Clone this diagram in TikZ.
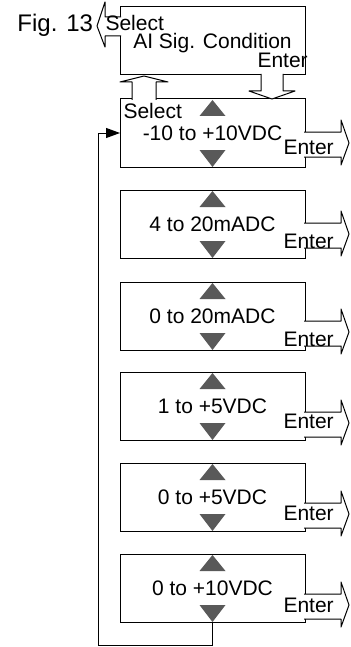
\documentclass[tikz,border=0pt]{standalone}
\usepackage{fontspec}
\setmainfont{Liberation Sans}
\usetikzlibrary{
    arrows.meta,
    calc
}

\definecolor{markgray}{HTML}{595959}

\tikzset{
    menubox/.style={draw, line width=0.5pt, inner sep=0pt, outer sep=0pt,
        minimum width=92.5pt, minimum height=34pt,
        font=\fontsize{10.5}{12}\selectfont},
    keylabel/.style={inner sep=0pt, font=\fontsize{10.5}{12}\selectfont},
    hollow/.style={draw, fill=white, line width=0.5pt, line join=round},
    updown/.style={fill=markgray}
}

\begin{document}
\begin{tikzpicture}[x=0.5pt, y=-0.5pt, line width=0.5pt]
\useasboundingbox (0,0) rectangle (350,647);

% Menu title
\node[anchor=base west, inner sep=0pt, font=\fontsize{12}{14}\selectfont] (fig) at (17,32) {Fig. 13};
\node[menubox] (menu) at (212.5,41) {\raisebox{-1.2pt}[\height][\depth]{AI Sig. Condition}};

% Option boxes
\foreach \i/\t/\s/\e/\val in {1/99/33/56/{-10 to +10VDC}, 2/190/33/58/{4 to 20mADC},
    3/282/39/64/{0 to 20mADC}, 4/372/40/56/{1 to +5VDC},
    5/463/40/57/{0 to +5VDC}, 6/554/40/58/{0 to +10VDC}}{
  \node[menubox] (b\i) at (212.5,\t+34) {\val};
  \fill[updown] ($(b\i.north)+(0,1)$) -- ++(13,16) -- ++(-26,0) -- cycle;
  \fill[updown] (b\i.south) -- ++(13,-17) -- ++(-26,0) -- cycle;
  % Enter arrow
  \filldraw[hollow] ($(b\i.north east)+(-1,\s)$) -- ++(37,0) -- ++(0,-12)
      -- ++(8,23) -- ++(-8,22) -- ++(0,-8) -- ++(-37,0);
  \node[keylabel, anchor=base west] (ent\i) at (283,\t+\e) {Enter};
}

% Select / Enter arrows of the title box
\filldraw[hollow] (121,17) -- (105,17) -- (105,2) -- (97,26) -- (105,47) -- (105,36) -- (121,36);
\filldraw[hollow] (132,100) -- (132,82) -- (120,82) -- (144,76) -- (168,82) -- (156,82) -- (156,100);
\filldraw[hollow] (261,74) -- (261,91) -- (249,91) -- (272,99) -- (295,91) -- (283,91) -- (283,74);

\node[keylabel, anchor=base west] (menusel) at (105,31) {Select};
\node[keylabel, anchor=base west] (menuent) at (257,68) {Enter};
\node[keylabel, anchor=base west] (sel1) at (123,119) {Select};

% Loop back to first option
\coordinate (loop) at (98,645);
\draw[-{Triangle[length=7pt,width=5pt]}] (b6.south) |- (loop) |- (b1.west);

\end{tikzpicture}
\end{document}
